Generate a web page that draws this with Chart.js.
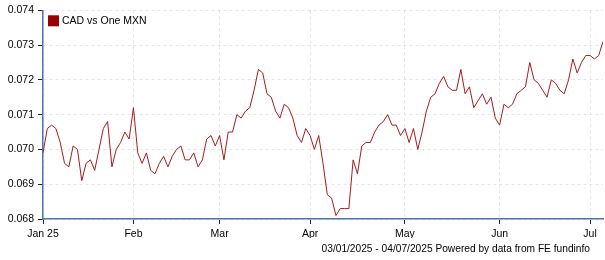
<!DOCTYPE html>
<html>
<head>
<meta charset="utf-8">
<script src="https://cdn.jsdelivr.net/npm/chart.js@4.4.1/dist/chart.umd.min.js"></script>
<style>
html, body { margin: 0; padding: 0; background: #fff; }
#wrap { width: 605px; height: 260px; position: relative; }
</style>
</head>
<body>
<div id="wrap"><canvas id="fxChart"></canvas></div>
<script>
// CAD vs One MXN, daily close (business days 03/01/2025 - 04/07/2025)
const seriesName = 'CAD vs One MXN';
const rates = [
  0.0699, 0.0706, 0.0707, 0.0706, 0.0702, 0.0696, 0.0695, 0.0701, 0.0700, 0.0691,
  0.0696, 0.0697, 0.0694, 0.0700, 0.0706, 0.0708, 0.0695, 0.0700, 0.0702, 0.0705,
  0.0703, 0.0712, 0.0699, 0.0696, 0.0699, 0.0694, 0.0693, 0.0696, 0.0698, 0.0695,
  0.0698, 0.0700, 0.0701, 0.0697, 0.0697, 0.0699, 0.0695, 0.0697, 0.0703, 0.0704,
  0.0701, 0.0704, 0.0697, 0.0705, 0.0705, 0.0710, 0.0709, 0.0711, 0.0712, 0.0717,
  0.0723, 0.0722, 0.0716, 0.0715, 0.0711, 0.0709, 0.0713, 0.0712, 0.0709, 0.0704,
  0.0702, 0.0706, 0.0704, 0.0700, 0.0704, 0.0696, 0.0687, 0.0686, 0.0681, 0.0683,
  0.0683, 0.0683, 0.0697, 0.0693, 0.0701, 0.0702, 0.0702, 0.0705, 0.0707, 0.0708,
  0.0710, 0.0707, 0.0707, 0.0704, 0.0706, 0.0702, 0.0706, 0.0700, 0.0705, 0.0711,
  0.0715, 0.0716, 0.0719, 0.0721, 0.0718, 0.0717, 0.0717, 0.0723, 0.0716, 0.0718,
  0.0712, 0.0714, 0.0716, 0.0713, 0.0715, 0.0709, 0.0707, 0.0713, 0.0712, 0.0713,
  0.0716, 0.0717, 0.0718, 0.0725, 0.0720, 0.0719, 0.0717, 0.0715, 0.0720, 0.0719,
  0.0717, 0.0716, 0.0720, 0.0726, 0.0722, 0.0725, 0.0727, 0.0727, 0.0726, 0.0727,
  0.0731
];
// first trading day of each month (index into rates)
const monthTicks = [0, 21, 41, 62, 84, 106, 127];
const monthLabels = ['Jan 25', 'Feb', 'Mar', 'Apr', 'May', 'Jun', 'Jul'];
const yTicks = [0.068, 0.069, 0.070, 0.071, 0.072, 0.073, 0.074];
const footerText = '03/01/2025 - 04/07/2025 Powered by data from FE fundinfo';

const FONT = '"Liberation Sans", Arial, sans-serif';

// legend inside the plot + source line under the axis
const overlay = {
  id: 'overlay',
  afterDraw(chart) {
    const c = chart.ctx;
    const a = chart.chartArea;
    c.save();
    c.fillStyle = '#990000';
    c.fillRect(a.left + 5, a.top + 5, 11, 11);
    c.fillStyle = '#000';
    c.font = '10.5px ' + FONT;
    c.textBaseline = 'middle';
    c.fillText(chart.data.datasets[0].label, a.left + 19, a.top + 10.5);
    c.font = '10.2px ' + FONT;
    c.textAlign = 'right';
    c.fillText(footerText, 590, 249);
    c.restore();
  }
};

const ctx = document.getElementById('fxChart');

new Chart(ctx, {
  type: 'line',
  data: {
    datasets: [{
      label: seriesName,
      data: rates.map((v, i) => ({ x: i, y: v })),
      borderColor: '#a51c1c',
      borderWidth: 1,
      pointRadius: 0,
      tension: 0,
      fill: false
    }]
  },
  options: {
    responsive: true,
    maintainAspectRatio: false,
    animation: false,
    devicePixelRatio: 1,
    layout: { padding: { top: 9, right: 2, bottom: 22, left: 0 } },
    plugins: {
      legend: { display: false },
      tooltip: { enabled: false }
    },
    scales: {
      x: {
        type: 'linear',
        min: 0,
        max: rates.length - 1,
        afterBuildTicks: s => { s.ticks = monthTicks.map(v => ({ value: v })); },
        afterFit: s => { s.height = 19; },
        ticks: {
          autoSkip: false,
          maxRotation: 0,
          padding: 4,
          color: '#000',
          font: { family: FONT, size: 10.5 },
          callback: (v, i) => monthLabels[i]
        },
        grid: { color: '#e4e4e4', tickColor: '#222', tickLength: 5 },
        border: { color: '#4a76ab', width: 1.5, dash: [3, 3] }
      },
      y: {
        min: 0.068,
        max: 0.074,
        afterBuildTicks: s => { s.ticks = yTicks.map(v => ({ value: v })); },
        afterFit: s => { s.width = 43; },
        ticks: {
          padding: 4,
          color: '#000',
          font: { family: FONT, size: 10.5 },
          callback: v => v.toFixed(3)
        },
        grid: { color: '#e4e4e4', tickColor: '#222', tickLength: 5 },
        border: { color: '#4a76ab', width: 1.5, dash: [3, 3] }
      }
    }
  },
  plugins: [overlay]
});
</script>
</body>
</html>
